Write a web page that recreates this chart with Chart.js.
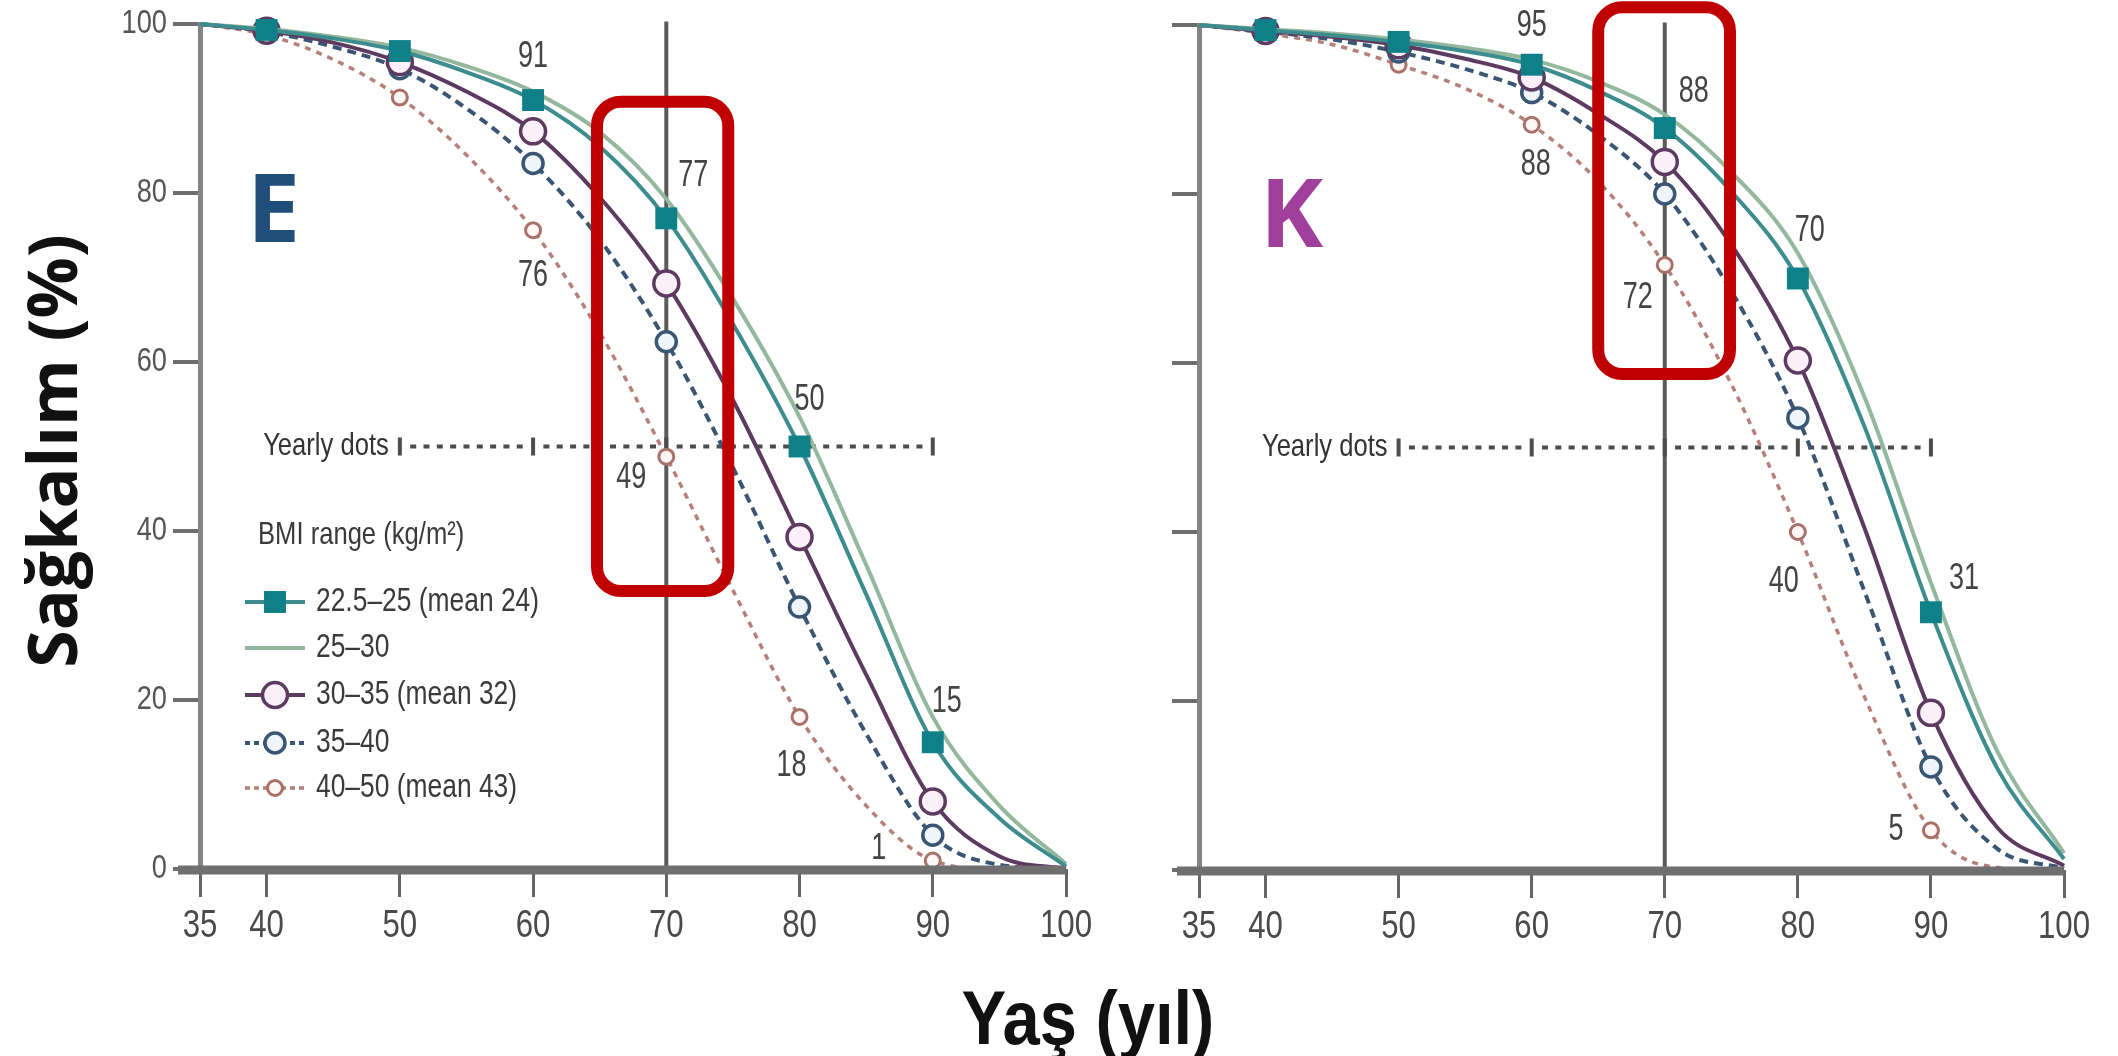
<!DOCTYPE html>
<html>
<head>
<meta charset="utf-8">
<script src="https://cdn.jsdelivr.net/npm/chart.js@4.4.1/dist/chart.umd.min.js"></script>
<style>
	body { margin: 0; background: #fff; }
	#wrap { position: relative; width: 2118px; height: 1056px; background: #fff; overflow: hidden; }
	canvas { position: absolute; top: 0; }
	.txt { position: absolute; white-space: nowrap; }
	#ytitle {
		left: -256px; top: 411px; width: 600px; height: 80px; line-height: 80px;
		text-align: center; transform: rotate(-90deg);
		font: 700 68px "Open Sans", "DejaVu Sans", sans-serif; color: #111;
	}
	#xtitle {
		left: 888px; top: 974px; width: 400px; line-height: 76px; text-align: center;
		transform: scaleX(0.88);
		font: 700 76px "Liberation Sans", Arial, sans-serif; color: #111;
	}
	.panel { font: 700 95px "Open Sans", sans-serif; line-height: 95px; }
</style>
</head>
<body>
<div id="wrap">
	<canvas id="chartMen" width="1100" height="1056" style="left:0"></canvas>
	<canvas id="chartWomen" width="1018" height="1056" style="left:1100px"></canvas>
	<div class="txt" id="ytitle">Sağkalım (%)</div>
	<div class="txt" id="xtitle">Yaş (yıl)</div>
	<div class="txt panel" style="left:247px; top:158px; color:#1f4e7a">E</div>
	<div class="txt panel" style="left:1260px; top:163px; color:#a0409c">K</div>
</div>
<script>
const ages = [35, 40, 45, 50, 55, 60, 65, 70, 75, 80, 85, 90, 95, 100];
const markerAges = [40, 50, 60, 70, 80, 90];
const xTickValues = [35, 40, 50, 60, 70, 80, 90, 100];
const yTickValues = [0, 20, 40, 60, 80, 100];
const seriesNames = ["22.5–25 (mean 24)", "25–30", "30–35 (mean 32)", "35–40", "40–50 (mean 43)"];

// erkek (E)
const bmi22Men = [100, 99.3, 98.3, 96.8, 94.3, 91, 85.5, 77, 64.5, 50, 32.5, 15, 6, 0.3];
const bmi25Men = [100, 99.4, 98.5, 97.2, 95, 92, 87.2, 79.3, 67.5, 53.5, 36, 18, 7.5, 0.6];
const bmi30Men = [100, 99.2, 97.8, 95.5, 92, 87.3, 79.5, 69.3, 55.5, 39.3, 23, 8, 1.5, 0];
const bmi35Men = [100, 99.1, 97.3, 94.7, 90, 83.5, 74.5, 62.4, 47.5, 31, 16, 4, 0.5, 0];
const bmi40Men = [100, 98.7, 95.8, 91.3, 84.5, 75.6, 63.5, 48.8, 33, 18, 7.5, 1, 0, 0];

// kadın (K)
const bmi22Women = [100, 99.4, 98.8, 98, 96.9, 95.3, 92.2, 87.8, 80.3, 70, 52.5, 30.5, 12, 1.3];
const bmi25Women = [100, 99.5, 99, 98.3, 97.3, 95.9, 93.3, 89.4, 82.6, 73, 56, 34, 14, 2];
const bmi30Women = [100, 99.3, 98.6, 97.6, 96, 93.8, 89.5, 83.8, 74, 60.3, 40.5, 18.6, 5, 0.5];
const bmi35Women = [100, 99.2, 98.3, 96.8, 94.8, 92, 87, 80, 68.5, 53.5, 33, 12.2, 2.5, 0.2];
const bmi40Women = [100, 99, 97.7, 95.3, 92.5, 88.2, 81.5, 71.6, 57.5, 40, 20.5, 4.7, 0.3, 0];

// value labels: dataset index, age, text
const menLabels = [
	[0, 60, "91"], [0, 70, "77"], [0, 80, "50"], [0, 90, "15"],
	[4, 60, "76"], [4, 70, "49"], [4, 80, "18"], [4, 90, "1"],
];
const womenLabels = [
	[0, 60, "95"], [0, 70, "88"], [0, 80, "70"], [0, 90, "31"],
	[4, 60, "88"], [4, 70, "72"], [4, 80, "40"], [4, 90, "5"],
];
const menLabelOffsets = [[0, -43], [27, -42], [10, -46], [14, -40], [0, 46], [-35, 21], [-8, 49], [-54, -11]];
const womenLabelOffsets = [[0, -39], [29, -36], [12, -47], [33, -33], [4, 40], [-27, 33], [-14, 50], [-35, 0]];

const refAge = 70;
const yearlyDots = [50, 90];
const yearlyDotsLevel = 50;

const SANS = '"Liberation Sans", Arial, sans-serif';

const styles = [
	{ color: "#3d8d8f", dash: [], width: 4, point: "rect", radius: 15.5, fill: "#0f7f88", pBorder: "#0f7f88", pWidth: 0 },
	{ color: "#93b89d", dash: [], width: 4, point: false, radius: 0, fill: "#fff", pBorder: "#93b89d", pWidth: 0 },
	{ color: "#5d3b60", dash: [], width: 4, point: "circle", radius: 12.5, fill: "#fcf0f8", pBorder: "#5d3b60", pWidth: 3.5 },
	{ color: "#3b5673", dash: [9, 6], width: 4, point: "circle", radius: 10, fill: "#eef6fb", pBorder: "#3b5673", pWidth: 3.5 },
	{ color: "#b58079", dash: [6, 6], width: 3.5, point: "circle", radius: 7.5, fill: "#fff7f5", pBorder: "#a8716a", pWidth: 3 },
];

// condensed-looking text: regular face squeezed horizontally
function narrowText(ctx, text, x, y, size, sx, align, color) {
	ctx.save();
	ctx.translate(x, y);
	ctx.scale(sx, 1);
	ctx.font = size + "px " + SANS;
	ctx.textAlign = align;
	ctx.textBaseline = "middle";
	ctx.fillStyle = color;
	ctx.fillText(text, 0, 0);
	ctx.restore();
}

function makeDatasets(seriesList) {
	return seriesList.map((values, i) => {
		const s = styles[i];
		return {
			label: seriesNames[i],
			data: ages.map((a, k) => ({ x: a, y: values[k] })),
			borderColor: s.color,
			borderWidth: s.width,
			borderDash: s.dash,
			cubicInterpolationMode: "monotone",
			pointStyle: s.point || "circle",
			pointRadius: (c) => (s.point && c.raw && markerAges.includes(c.raw.x) ? s.radius : 0),
			pointHoverRadius: 0,
			pointBackgroundColor: s.fill,
			pointBorderColor: s.pBorder,
			pointBorderWidth: s.pWidth,
			clip: false,
		};
	});
}

const decor = {
	id: "decor",
	beforeDatasetsDraw(chart, args, opts) {
		const { ctx, chartArea } = chart;
		const x = chart.scales.x, y = chart.scales.y;
		ctx.save();
		// vertical line at age 70
		ctx.strokeStyle = "#5a5a5a";
		ctx.lineWidth = 4;
		ctx.beginPath();
		ctx.moveTo(x.getPixelForValue(refAge), y.getPixelForValue(100.3));
		ctx.lineTo(x.getPixelForValue(refAge), chartArea.bottom);
		ctx.stroke();
		// yearly dots ruler
		const yy = y.getPixelForValue(yearlyDotsLevel);
		ctx.fillStyle = "#4d4d4d";
		for (let a = yearlyDots[0]; a <= yearlyDots[1]; a++) {
			const px = x.getPixelForValue(a);
			if (a % 10 === 0) ctx.fillRect(px - 2, yy - 9, 4, 18);
			else ctx.fillRect(px - 3, yy - 2, 6, 4);
		}
		ctx.restore();
		narrowText(ctx, "Yearly dots", x.getPixelForValue(yearlyDots[0]) - 11, yy, 32, 0.8, "right", "#333");
	},
	afterDatasetsDraw(chart, args, opts) {
		const { ctx, chartArea } = chart;
		const x = chart.scales.x, y = chart.scales.y;
		ctx.save();
		// x axis line
		ctx.strokeStyle = "#6f6f6f";
		ctx.lineWidth = 9;
		ctx.beginPath();
		ctx.moveTo(chartArea.left - 22, chartArea.bottom + 1);
		ctx.lineTo(chartArea.right, chartArea.bottom + 1);
		ctx.stroke();
		ctx.restore();
		// tick labels, placed by the scales
		x.ticks.forEach((t) => narrowText(ctx, String(t.value), x.getPixelForValue(t.value), chartArea.bottom + 57, 39, 0.8, "center", "#4a4a4a"));
		if (opts.yLabels) {
			y.ticks.forEach((t) => narrowText(ctx, String(t.value), chartArea.left - 33, y.getPixelForValue(t.value), 34, 0.8, "right", "#555"));
		}
		// value labels
		opts.labels.forEach((l, i) => {
			const [ds, age, text] = l;
			const pt = chart.data.datasets[ds].data.find((d) => d.x === age);
			const off = opts.offsets[i];
			narrowText(ctx, text, x.getPixelForValue(age) + off[0], y.getPixelForValue(pt.y) + off[1], 36, 0.75, "center", "#444");
		});
		// highlight box
		ctx.save();
		const b = opts.box;
		const bx0 = x.getPixelForValue(b[0]), bx1 = x.getPixelForValue(b[1]);
		const by0 = y.getPixelForValue(b[2]), by1 = y.getPixelForValue(b[3]);
		ctx.strokeStyle = "#c00000";
		ctx.lineWidth = 12;
		ctx.beginPath();
		ctx.roundRect(bx0, by0, bx1 - bx0, by1 - by0, 24);
		ctx.stroke();
		ctx.restore();
		// legend
		if (opts.legend) {
			const lx = chartArea.left + 58;
			narrowText(ctx, "BMI range (kg/m²)", lx, 535, 32, 0.8, "left", "#3a3a3a");
			const rows = [602, 648, 695, 743, 788];
			chart.data.datasets.forEach((d, i) => {
				const s = styles[i];
				const ry = rows[i];
				ctx.save();
				ctx.strokeStyle = s.color;
				ctx.lineWidth = s.width;
				ctx.setLineDash(s.dash.length ? [5, 4] : []);
				ctx.beginPath();
				ctx.moveTo(lx - 13, ry);
				ctx.lineTo(lx + 47, ry);
				ctx.stroke();
				ctx.setLineDash([]);
				if (s.point) {
					ctx.fillStyle = s.fill;
					ctx.strokeStyle = s.pBorder;
					ctx.lineWidth = s.pWidth;
					Chart.helpers.drawPoint(ctx, { pointStyle: s.point, radius: s.radius, rotation: 0, borderWidth: s.pWidth }, lx + 17, ry);
				}
				ctx.restore();
				narrowText(ctx, d.label, lx + 58, ry, 33, 0.8, "left", "#3a3a3a");
			});
		}
	},
};

function renderPanel(canvasId, seriesList, cfg) {
	const ctx = document.getElementById(canvasId).getContext("2d");
	return new Chart(ctx, {
		type: "line",
		data: { datasets: makeDatasets(seriesList) },
		plugins: [decor],
		options: {
			responsive: false,
			animation: false,
			devicePixelRatio: 1,
			events: [],
			layout: { padding: { top: cfg.top, right: cfg.right, left: 0, bottom: 0 } },
			scales: {
				x: {
					type: "linear",
					min: 35,
					max: 100,
					afterBuildTicks: (s) => { s.ticks = xTickValues.map((v) => ({ value: v })); },
					afterFit: (s) => { s.height = cfg.xHeight; },
					ticks: { display: false },
					grid: { drawOnChartArea: false, drawTicks: true, tickLength: 28, lineWidth: 3, color: "#666" },
					border: { display: false },
				},
				y: {
					min: 0,
					max: 100,
					afterBuildTicks: (s) => { s.ticks = yTickValues.map((v) => ({ value: v })); },
					afterFit: (s) => { s.width = cfg.yWidth; },
					ticks: { display: false },
					grid: { drawOnChartArea: false, drawTicks: true, tickLength: 27, lineWidth: 4, color: "#6e6e6e" },
					border: { display: true, color: "#858585", width: 5 },
				},
			},
			plugins: {
				legend: { display: false },
				tooltip: { enabled: false },
				decor: cfg.decor,
			},
		},
	});
}

renderPanel("chartMen", [bmi22Men, bmi25Men, bmi30Men, bmi35Men, bmi40Men], {
	top: 24, right: 34, xHeight: 187, yWidth: 200,
	decor: { labels: menLabels, offsets: menLabelOffsets, box: [64.8, 74.65, 90.8, 32.9], legend: true, yLabels: true },
});
renderPanel("chartWomen", [bmi22Women, bmi25Women, bmi30Women, bmi35Women, bmi40Women], {
	top: 25, right: 54, xHeight: 186, yWidth: 99,
	decor: { labels: womenLabels, offsets: womenLabelOffsets, box: [65, 74.9, 102.1, 58.7], legend: false, yLabels: false },
});
</script>
</body>
</html>
